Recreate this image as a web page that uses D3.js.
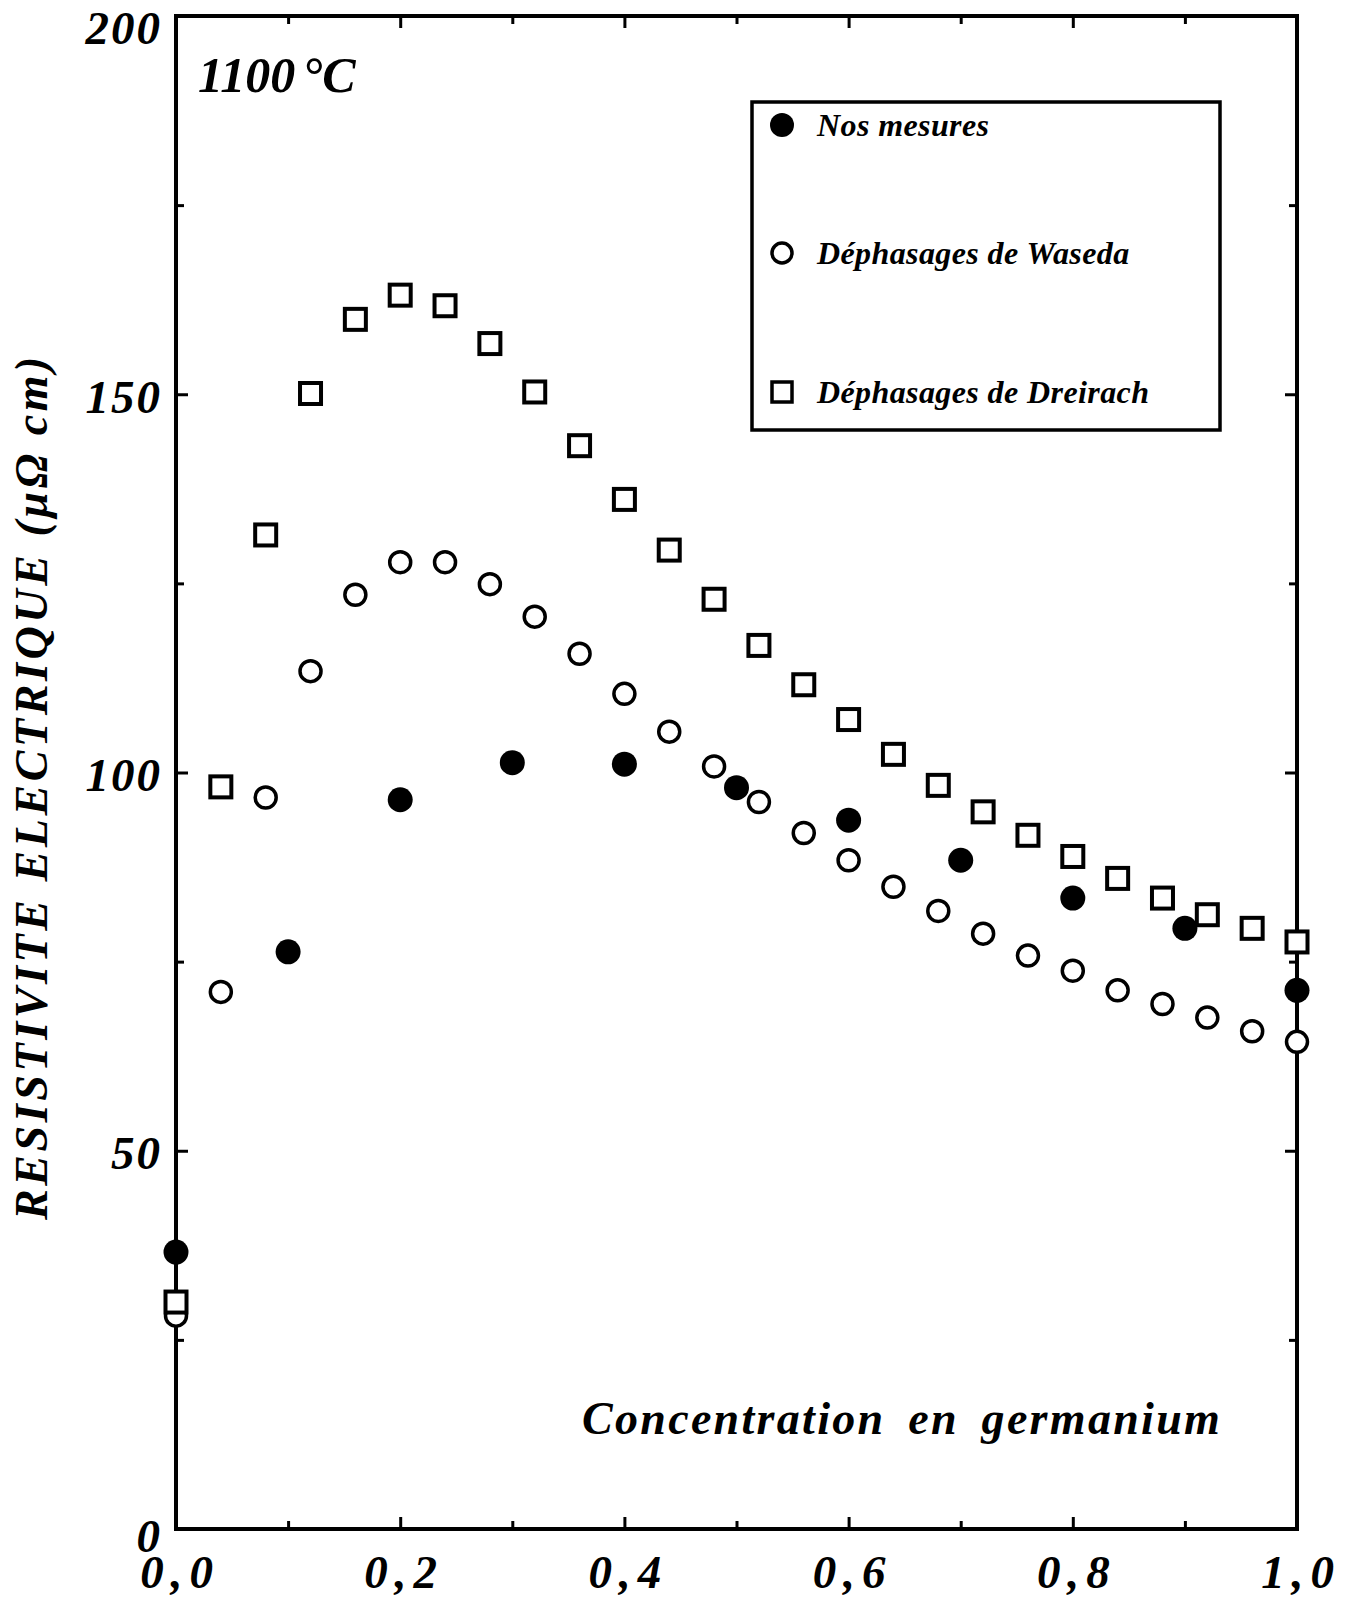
<!DOCTYPE html>
<html>
<head>
<meta charset="utf-8">
<script src="https://cdn.jsdelivr.net/npm/d3@7"></script>
<style>
  html, body { margin: 0; padding: 0; background: #fff; }
  svg text { font-family: "Liberation Serif", "Times New Roman", serif; font-weight: bold; font-style: italic; fill: #000; }
</style>
</head>
<body>
<svg id="chart" width="1354" height="1601"></svg>
<script>
// Germanium concentration (molar fraction)
const xMesures = [0, 0.1, 0.2, 0.3, 0.4, 0.5, 0.6, 0.7, 0.8, 0.9, 1.0];
const yMesures = [36.6, 76.3, 96.4, 101.3, 101.1, 98.0, 93.7, 88.4, 83.4, 79.4, 71.2];

const xCalc = [0, 0.04, 0.08, 0.12, 0.16, 0.20, 0.24, 0.28, 0.32, 0.36, 0.40, 0.44, 0.48,
               0.52, 0.56, 0.60, 0.64, 0.68, 0.72, 0.76, 0.80, 0.84, 0.88, 0.92, 0.96, 1.0];
const yWaseda = [28.2, 71.0, 96.7, 113.4, 123.5, 127.8, 127.8, 124.9, 120.6, 115.7, 110.4, 105.4, 100.8,
                 96.1, 92.0, 88.4, 84.9, 81.7, 78.7, 75.8, 73.8, 71.2, 69.4, 67.6, 65.8, 64.4];
const yDreirach = [30.0, 98.1, 131.4, 150.1, 159.9, 163.1, 161.7, 156.7, 150.3, 143.2, 136.1, 129.4, 122.9,
                   116.8, 111.6, 107.0, 102.4, 98.3, 94.8, 91.7, 88.9, 86.0, 83.4, 81.2, 79.4, 77.6];

const xTickLabels = [0, 0.2, 0.4, 0.6, 0.8, 1.0];
const xMinorTicks = [0.1, 0.3, 0.5, 0.7, 0.9];
const yTickLabels = [0, 50, 100, 150, 200];
const yMinorTicks = [25, 75, 125, 175];

const legendLabels = ["Nos mesures", "Déphasages de Waseda", "Déphasages de Dreirach"];

const svg = d3.select("#chart");

const x = d3.scaleLinear().domain([0, 1]).range([176, 1297]);
const y = d3.scaleLinear().domain([0, 200]).range([1529, 16]);

const fmtX = d => d3.format(".1f")(d).replace(".", ",");

// Frame
svg.append("rect")
  .attr("x", x(0)).attr("y", y(200))
  .attr("width", x(1) - x(0)).attr("height", y(0) - y(200))
  .attr("fill", "none").attr("stroke", "#000").attr("stroke-width", 4);

function styleAxis(g) {
  g.select(".domain").remove();
  g.selectAll(".tick line").attr("stroke", "#000").attr("stroke-width", 3);
}

// Bottom axis: labels + inward ticks
const xLS = 7;
svg.append("g").attr("transform", `translate(0,${y(0)})`)
  .call(d3.axisBottom(x).tickValues(xTickLabels).tickSize(-12).tickPadding(26).tickFormat(fmtX))
  .call(styleAxis)
  .call(g => g.selectAll("text")
    .attr("font-size", 47).attr("fill", "#000")
    .attr("letter-spacing", xLS).attr("dx", xLS / 2));
svg.append("g").attr("transform", `translate(0,${y(0)})`)
  .call(d3.axisBottom(x).tickValues(xMinorTicks).tickSize(-8).tickFormat(""))
  .call(styleAxis);

// Top axis ticks
svg.append("g").attr("transform", `translate(0,${y(200)})`)
  .call(d3.axisTop(x).tickValues(xTickLabels).tickSize(-12).tickFormat(""))
  .call(styleAxis);
svg.append("g").attr("transform", `translate(0,${y(200)})`)
  .call(d3.axisTop(x).tickValues(xMinorTicks).tickSize(-8).tickFormat(""))
  .call(styleAxis);

// Left axis: labels + inward ticks (end labels nudged down, as printed)
const yLS = 2;
svg.append("g").attr("transform", `translate(${x(0)},0)`)
  .call(d3.axisLeft(y).tickValues(yTickLabels).tickSize(-12).tickPadding(16 - yLS).tickFormat(d3.format("d")))
  .call(styleAxis)
  .call(g => g.selectAll("text")
    .attr("font-size", 47).attr("fill", "#000").attr("letter-spacing", yLS)
    .attr("dy", d => d === 200 ? "0.58em" : d === 0 ? "0.48em" : "0.38em"));
svg.append("g").attr("transform", `translate(${x(0)},0)`)
  .call(d3.axisLeft(y).tickValues(yMinorTicks).tickSize(-8).tickFormat(""))
  .call(styleAxis);

// Right axis ticks
svg.append("g").attr("transform", `translate(${x(1)},0)`)
  .call(d3.axisRight(y).tickValues(yTickLabels).tickSize(-12).tickFormat(""))
  .call(styleAxis);
svg.append("g").attr("transform", `translate(${x(1)},0)`)
  .call(d3.axisRight(y).tickValues(yMinorTicks).tickSize(-8).tickFormat(""))
  .call(styleAxis);

// Axis titles and annotation
svg.append("text")
  .attr("transform", `translate(47,${y(100) + 14}) rotate(-90)`)
  .attr("text-anchor", "middle")
  .attr("font-size", 46)
  .attr("letter-spacing", 3.6)
  .text("RESISTIVITE ELECTRIQUE (μΩ cm)");

svg.append("text")
  .attr("x", 582).attr("y", 1434)
  .attr("font-size", 46)
  .attr("letter-spacing", 2.3)
  .attr("word-spacing", 9)
  .text("Concentration en germanium");

const temp = svg.append("text").attr("x", 198).attr("y", 92).attr("font-size", 50);
temp.append("tspan").text("1100");
temp.append("tspan").attr("dx", 7).text("°C");

// Markers
const R = 10.5, S = 21;
const waseda = xCalc.map((d, i) => ({ x: d, y: yWaseda[i] }));
const dreirach = xCalc.map((d, i) => ({ x: d, y: yDreirach[i] }));
const mesures = xMesures.map((d, i) => ({ x: d, y: yMesures[i] }));

svg.append("g").selectAll("circle").data(waseda).join("circle")
  .attr("cx", d => x(d.x)).attr("cy", d => y(d.y)).attr("r", R)
  .attr("fill", "#fff").attr("stroke", "#000").attr("stroke-width", 3.5);

svg.append("g").selectAll("rect").data(dreirach).join("rect")
  .attr("x", d => x(d.x) - S / 2).attr("y", d => y(d.y) - S / 2)
  .attr("width", S).attr("height", S)
  .attr("fill", "#fff").attr("stroke", "#000").attr("stroke-width", 4);

svg.append("g").selectAll("circle").data(mesures).join("circle")
  .attr("cx", d => x(d.x)).attr("cy", d => y(d.y)).attr("r", 12.5)
  .attr("fill", "#000");

// Legend
const leg = svg.append("g");
leg.append("rect")
  .attr("x", 752).attr("y", 102).attr("width", 468).attr("height", 328)
  .attr("fill", "none").attr("stroke", "#000").attr("stroke-width", 3.5);
const legY = [125, 253, 392];
leg.append("circle").attr("cx", 782).attr("cy", legY[0]).attr("r", 12).attr("fill", "#000");
leg.append("circle").attr("cx", 782).attr("cy", legY[1]).attr("r", 10)
  .attr("fill", "#fff").attr("stroke", "#000").attr("stroke-width", 3.5);
leg.append("rect").attr("x", 782 - 10).attr("y", legY[2] - 10).attr("width", 20).attr("height", 20)
  .attr("fill", "#fff").attr("stroke", "#000").attr("stroke-width", 3.5);
leg.selectAll("text").data(legendLabels).join("text")
  .attr("x", 817).attr("y", (d, i) => legY[i] + 11)
  .attr("font-size", 32)
  .attr("letter-spacing", 0.4)
  .text(d => d);
</script>
</body>
</html>
